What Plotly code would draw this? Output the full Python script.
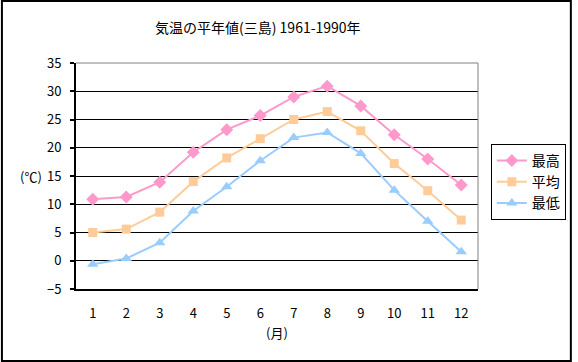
import plotly.graph_objects as go

months = [1, 2, 3, 4, 5, 6, 7, 8, 9, 10, 11, 12]
month_labels = ["1", "2", "3", "4", "5", "6", "7", "8", "9", "10", "11", "12"]
high = [10.9, 11.3, 13.9, 19.2, 23.2, 25.7, 29.0, 30.9, 27.4, 22.3, 18.0, 13.4]
mean = [5.0, 5.6, 8.6, 14.0, 18.2, 21.6, 25.0, 26.4, 23.0, 17.2, 12.4, 7.2]
low = [-0.6, 0.4, 3.2, 8.8, 13.1, 17.7, 21.8, 22.7, 19.0, 12.5, 7.0, 1.6]
names = ["最高", "平均", "最低"]
colors = ["#FF99CC", "#FFCC99", "#99CCFF"]
symbols = ["diamond", "square", "triangle-up"]

FONT = "Noto Sans CJK JP"
W, H = 578, 362
L, R, T, B = 76, 95, 63, 73
pw = W - L - R
ph = H - T - B

fig = go.Figure()
for ys, n, c, s in zip([high, mean, low], names, colors, symbols):
    fig.add_trace(go.Scatter(
        x=months, y=ys, name=n, mode="lines+markers",
        line=dict(color=c, width=2),
        marker=dict(symbol=s, size=10 if s != "square" else 9, color=c),
    ))

fig.update_layout(
    width=W, height=H,
    margin=dict(l=L, r=R, t=T, b=B),
    paper_bgcolor="white", plot_bgcolor="white",
    font=dict(family=FONT, size=13, color="black"),
    legend=dict(x=(496 - L) / pw, y=(T + ph - 144) / ph, xanchor="left", yanchor="top",
                bordercolor="black", borderwidth=1, bgcolor="white",
                font=dict(size=14, family=FONT), tracegroupgap=0, itemwidth=30),
    showlegend=True,
)
fig.update_xaxes(
    range=[0.5, 12.5], tickmode="array", tickvals=months, ticktext=month_labels,
    showgrid=False, showline=True, linecolor="black", linewidth=2, ticks="",
    zeroline=False, ticklabelstandoff=11,
    title=dict(text="(月)", font=dict(size=13, family=FONT), standoff=8),
)
fig.update_yaxes(
    range=[-5, 35], dtick=5, tick0=-5, showgrid=True, gridcolor="black", gridwidth=1,
    showline=True, linecolor="black", linewidth=2, ticks="outside", ticklen=4,
    tickcolor="black", tickwidth=2, zeroline=False, ticklabelstandoff=6,
)
# gray top and right border of plot area
fig.add_shape(type="line", xref="paper", yref="paper", x0=0, x1=1, y0=1, y1=1,
              line=dict(color="#808080", width=1))
fig.add_shape(type="line", xref="paper", yref="paper", x0=1, x1=1, y0=0, y1=1,
              line=dict(color="#808080", width=1))
# outer border
fig.add_shape(type="rect", xref="paper", yref="paper",
              x0=-(L - 1) / pw, x1=(W - L - 1) / pw, y0=-(B - 1) / ph, y1=(H - B - 1) / ph,
              line=dict(color="black", width=2))
fig.add_annotation(text="気温の平年値(三島) 1961-1990年", xref="paper", yref="paper",
                   x=(260 - L) / pw, y=(T + ph - 27) / ph, showarrow=False,
                   xanchor="center", yanchor="middle", font=dict(size=14, family=FONT))
fig.add_annotation(text="(℃)", xref="paper", yref="paper", x=-(L - 30) / pw,
                   y=(T + ph - 176) / ph, showarrow=False, xanchor="center", yanchor="middle",
                   font=dict(size=13, family=FONT))

fig.write_html("out.html", config={"displayModeBar": False},
               post_script="document.body.style.margin='0';")
